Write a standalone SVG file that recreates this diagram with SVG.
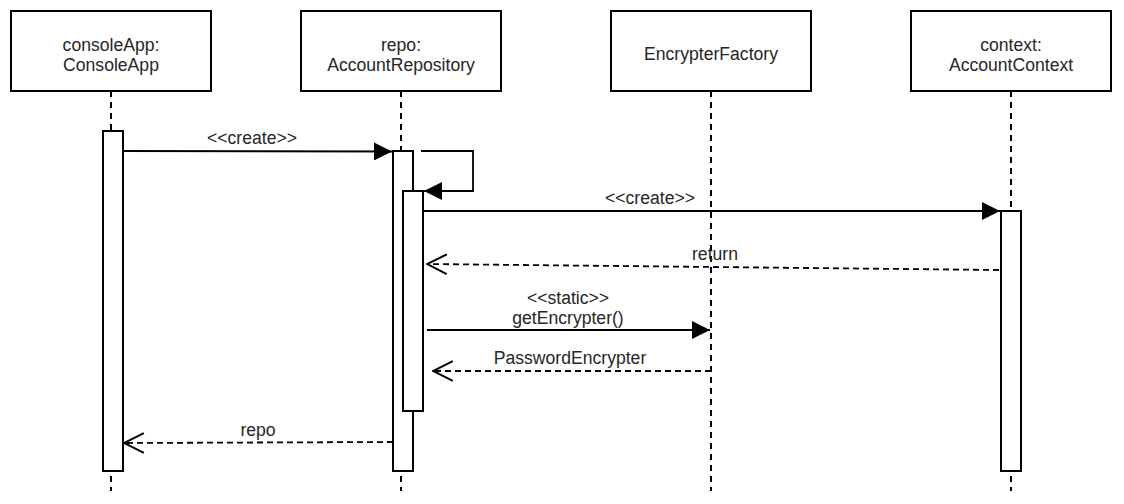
<svg xmlns="http://www.w3.org/2000/svg" width="1124" height="504" viewBox="0 0 1124 504">
<style>
.box{fill:#fff;stroke:#000;stroke-width:2}
.act{fill:#fff;stroke:#000;stroke-width:2}
.life{stroke:#000;stroke-width:2;stroke-dasharray:6 5;fill:none}
.msg{stroke:#000;stroke-width:1.8;fill:none}
.ret{stroke:#000;stroke-width:1.8;fill:none;stroke-dasharray:6 4}
text{font-family:"Liberation Sans",Arial,sans-serif;font-size:17.6px;fill:#262626;text-anchor:middle}
</style>
<defs>
<marker id="filled" markerWidth="18" markerHeight="18" viewBox="0 0 16 16" refX="16" refY="8" orient="auto" markerUnits="userSpaceOnUse">
<path d="M0,0 L16,8 L0,16 Z" fill="#000"/>
</marker>
<marker id="open" markerWidth="22" markerHeight="22" viewBox="0 0 20 20" refX="19" refY="10" orient="auto" markerUnits="userSpaceOnUse">
<path d="M1,1 L19,10 L1,19" fill="none" stroke="#000" stroke-width="1.8"/>
</marker>
</defs>

<g id="lifelines">
<line class="life" x1="111" y1="91" x2="111" y2="491"/>
<line class="life" x1="401" y1="91" x2="401" y2="491"/>
<line class="life" x1="711" y1="91" x2="711" y2="491"/>
<line class="life" x1="1011" y1="91" x2="1011" y2="491"/>
</g>

<g id="consoleApp">
<rect class="box" x="11" y="11" width="200" height="80"/>
<text x="111" y="51">consoleApp:</text>
<text x="111" y="71">ConsoleApp</text>
<rect class="act" x="103" y="131" width="20" height="340"/>
</g>

<g id="repo">
<rect class="box" x="301" y="11" width="200" height="80"/>
<text x="401" y="51">repo:</text>
<text x="401" y="71">AccountRepository</text>
<rect class="act" x="393" y="151" width="20" height="320"/>
<rect class="act" x="403" y="191" width="20" height="220"/>
</g>

<g id="encrypterFactory">
<rect class="box" x="611" y="11" width="200" height="80"/>
<text x="711" y="60">EncrypterFactory</text>
</g>

<g id="context">
<rect class="box" x="911" y="11" width="200" height="80"/>
<text x="1011" y="51">context:</text>
<text x="1011" y="71">AccountContext</text>
<rect class="act" x="1001" y="211" width="20" height="260"/>
</g>

<g id="connectors">
<line class="msg" x1="123" y1="151" x2="392" y2="151.5" marker-end="url(#filled)"/>
<text x="252" y="144">&lt;&lt;create&gt;&gt;</text>

<polyline class="msg" points="421,151 473,151 473,191 424,191" marker-end="url(#filled)"/>

<line class="msg" x1="423" y1="211" x2="1000" y2="211" marker-end="url(#filled)"/>
<text x="650" y="204">&lt;&lt;create&gt;&gt;</text>

<line class="ret" x1="999" y1="270" x2="427" y2="264" marker-end="url(#open)"/>
<text x="715" y="260">return</text>

<line class="msg" x1="427" y1="330" x2="710" y2="330" marker-end="url(#filled)"/>
<text x="568" y="304">&lt;&lt;static&gt;&gt;</text>
<text x="568" y="324">getEncrypter()</text>

<line class="ret" x1="711" y1="371" x2="433" y2="371" marker-end="url(#open)"/>
<text x="570" y="364">PasswordEncrypter</text>

<line class="ret" x1="393" y1="442" x2="124" y2="443" marker-end="url(#open)"/>
<text x="258" y="436">repo</text>
</g>
</svg>
